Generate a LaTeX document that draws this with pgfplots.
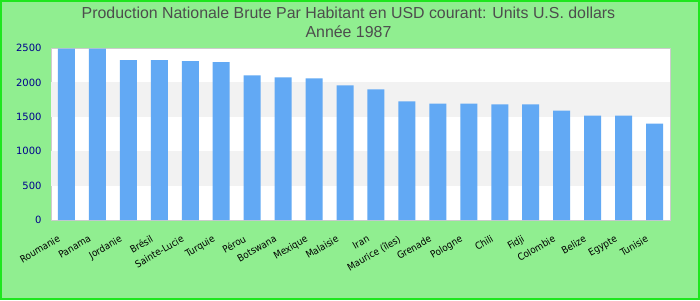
\documentclass[border=0pt]{standalone}
\usepackage{pgfplots}
\pgfplotsset{compat=1.18}
\usepackage{fontspec}
\setmainfont{Liberation Sans}
\newfontfamily\dejavu{DejaVu Sans}
\newfontfamily\dejavucond{DejaVu Sans Condensed}
\definecolor{bg}{RGB}{144,238,144}
\definecolor{bgborder}{RGB}{30,230,30}
\definecolor{barc}{RGB}{98,169,244}
\definecolor{band}{RGB}{242,242,242}
\definecolor{ticknavy}{RGB}{0,0,140}
\definecolor{titlegray}{RGB}{77,77,77}
\begin{document}
\begin{tikzpicture}[x=1bp,y=1bp]
\fill[bg] (0,0) rectangle (700,300);
\draw[bgborder, line width=1.6bp] (0.8,0.8) rectangle (699.2,299.2);
\node[align=center, font=\fontsize{15.9bp}{19bp}\selectfont, text=titlegray, anchor=center] at (348.5,277.5)
  {Production Nationale Brute Par Habitant en USD courant: Units U.S. dollars\\Année 1987};
\begin{axis}[
  at={(51bp,80bp)}, anchor=south west,
  width=619bp, height=172bp, scale only axis,
  xmin=-0.5, xmax=19.5, ymin=0, ymax=2500,
  axis background/.style={fill=white},
  axis line style={draw=black!20, line width=0.8bp},
  ytick={0,500,1000,1500,2000,2500},
  xtick={0,...,19},
  xticklabels={Roumanie,Panama,Jordanie,Brésil,Sainte-Lucie,Turquie,Pérou,Botswana,Mexique,Malaisie,Iran,Maurice (îles),Grenade,Pologne,Chili,Fidji,Colombie,Belize,Egypte,Tunisie},
  major tick length=0pt,
  yticklabel style={font=\dejavu\fontsize{10bp}{12bp}\selectfont, text=ticknavy, xshift=-6bp},
  xticklabel style={xshift=-9bp, yshift=-13bp, rotate=30, anchor=north east, inner sep=1bp, font=\dejavucond\fontsize{9.8bp}{11bp}\selectfont, text=black},
  /pgf/number format/assume math mode=true,
  /pgf/number format/set thousands separator={},
  scaled y ticks=false,
  ybar, bar width=17bp,
]
\fill[band] (axis cs:-0.5,500) rectangle (axis cs:19.5,1000);
\fill[band] (axis cs:-0.5,1500) rectangle (axis cs:19.5,2000);
\addplot[fill=barc, draw=none, bar shift=0pt] coordinates {
(0,2490) (1,2490) (2,2322) (3,2322) (4,2308) (5,2293) (6,2103) (7,2074) (8,2059) (9,1957)
(10,1898) (11,1723) (12,1693) (13,1693) (14,1680) (15,1680) (16,1591) (17,1518) (18,1518) (19,1401)
};
\end{axis}
\end{tikzpicture}
\end{document}
